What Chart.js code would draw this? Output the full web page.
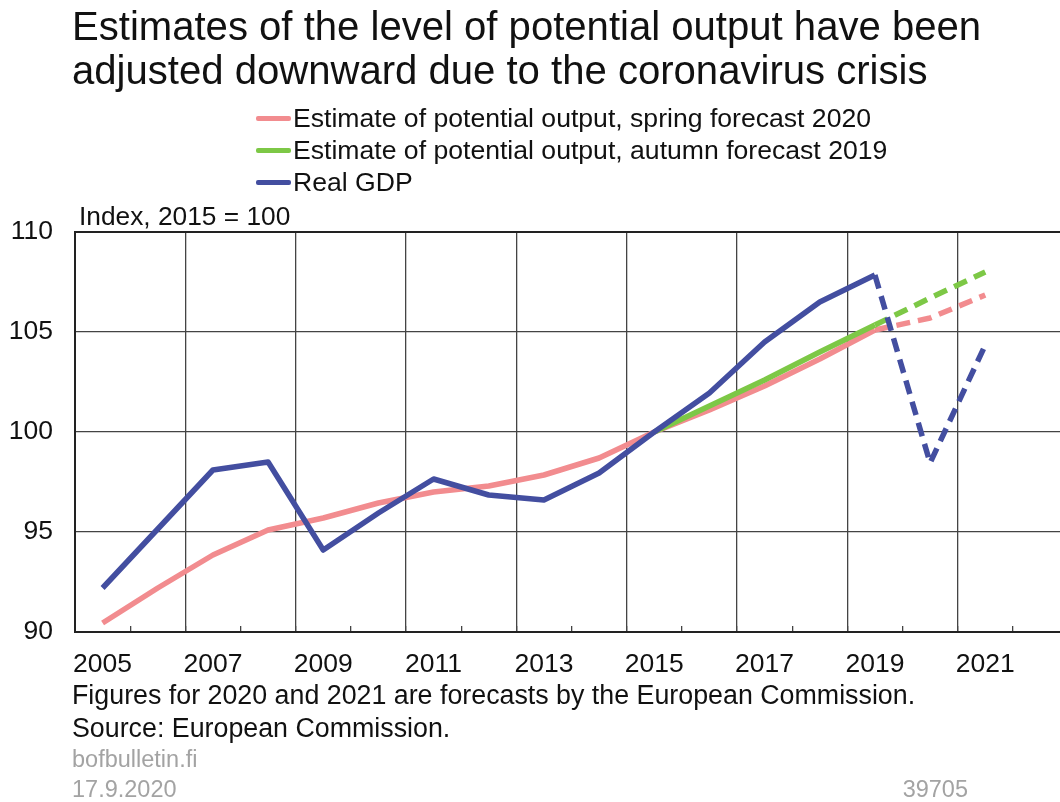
<!DOCTYPE html>
<html>
<head>
<meta charset="utf-8">
<script src="https://cdn.jsdelivr.net/npm/chart.js@4.4.1/dist/chart.umd.min.js"></script>
<style>
  html, body { margin: 0; padding: 0; background: #fff; overflow: hidden; width: 1060px; height: 802px; }
  body { position: relative; font-family: 'Liberation Sans', Arial, sans-serif; color: #111; }
  #chart { position: absolute; left: 0; top: 0; }
  .abs { position: absolute; white-space: nowrap; }
  .title { left: 72px; top: 4px; font-size: 40.1px; line-height: 44px; }
  .legend-row { left: 256px; font-size: 26.6px; line-height: 32px; display: flex; align-items: center; }
  .swatch { display: inline-block; width: 35px; height: 5px; border-radius: 2px; margin-right: 2px; }
  .unit { left: 79px; top: 201px; font-size: 26.3px; line-height: 30px; }
  .note { left: 72px; font-size: 26.8px; line-height: 30px; }
  .grey { font-size: 23.5px; line-height: 30px; color: #a3a3a3; }
</style>
</head>
<body>
<canvas id="chart" width="1080" height="802"></canvas>

<div class="abs title">Estimates of the level of potential output have been<br>adjusted downward due to the coronavirus crisis</div>

<div class="abs legend-row" style="top:102px"><span class="swatch" style="background:#f28c8f"></span>Estimate of potential output, spring forecast 2020</div>
<div class="abs legend-row" style="top:134px"><span class="swatch" style="background:#7dc846"></span>Estimate of potential output, autumn forecast 2019</div>
<div class="abs legend-row" style="top:166px"><span class="swatch" style="background:#434ea0"></span>Real GDP</div>

<div class="abs unit">Index, 2015 = 100</div>

<div class="abs note" style="top:680px">Figures for 2020 and 2021 are forecasts by the European Commission.</div>
<div class="abs note" style="top:713px">Source: European Commission.</div>
<div class="abs grey" style="left:72px; top:744px">bofbulletin.fi</div>
<div class="abs grey" style="left:72px; top:774px">17.9.2020</div>
<div class="abs grey" style="right:92px; top:774px">39705</div>

<script>
// ── Data ───────────────────────────────────────────────────────────────────
const years = ['2005','2006','2007','2008','2009','2010','2011','2012','2013',
               '2014','2015','2016','2017','2018','2019','2020','2021','2022'];

const spring2020 = [90.45, 92.2, 93.85, 95.1, 95.7, 96.45, 97.0, 97.3, 97.85,
                    98.7, 100, 101.1, 102.3, 103.65, 105.1, 105.7, 106.85, null];

const autumn2019 = [null, null, null, null, null, null, null, null, null,
                    null, 100, 101.3, 102.6, 104.0, 105.35, 106.7, 108.0, null];

const realGdp    = [92.2, 95.15, 98.1, 98.5, 94.1, 95.95, 97.65, 96.85, 96.6,
                    97.95, 100, 101.95, 104.5, 106.5, 107.85, 98.45, 104.35, null];

const yTicks = [90, 95, 100, 105, 110];

const FIRST_FORECAST = years.indexOf('2020');
const FONT = "'Liberation Sans', Arial, sans-serif";

// forecast years drawn dashed
const forecastDash = ctx => ctx.p1DataIndex >= FIRST_FORECAST ? [14, 8] : undefined;

function lineSet(label, data, color) {
  return {
    label, data,
    borderColor: color, backgroundColor: color,
    borderWidth: 5.5, pointRadius: 0, tension: 0,
    borderJoinStyle: 'round', spanGaps: false, fill: false,
    segment: { borderDash: forecastDash }
  };
}

new Chart(document.getElementById('chart'), {
  type: 'line',
  data: {
    labels: years,
    datasets: [
      lineSet('Real GDP', realGdp, '#434ea0'),
      lineSet('Estimate of potential output, autumn forecast 2019', autumn2019, '#7dc846'),
      lineSet('Estimate of potential output, spring forecast 2020', spring2020, '#f28c8f'),
    ]
  },
  options: {
    responsive: false, animation: false,
    layout: { padding: { top: 232, bottom: 130, left: 0, right: 12 } },
    plugins: { legend: { display: false }, tooltip: { enabled: false } },
    scales: {
      x: {
        offset: true,
        afterFit: s => { s.height = 40; },
        grid: {
          offset: true,
          color: c => (c.index === undefined || c.index % 2 === 0) ? '#444' : 'rgba(0,0,0,0)',
          lineWidth: 1.3,
          drawTicks: true, tickLength: -6, tickColor: '#444', tickWidth: 1.3
        },
        border: { display: true, color: '#222', width: 2 },
        ticks: {
          autoSkip: false, maxRotation: 0, padding: 23,
          color: '#111', font: { family: FONT, size: 26.5 },
          callback: (v, i) => i % 2 === 0 ? years[i] : ''
        }
      },
      y: {
        min: yTicks[0], max: yTicks[yTicks.length - 1],
        afterFit: s => { s.width = 75; },
        afterBuildTicks: s => { s.ticks = yTicks.map(v => ({ value: v })); },
        grid: {
          drawTicks: false,
          color: c => c.tick && c.tick.value === 110 ? '#222' : '#444',
          lineWidth: c => c.tick && c.tick.value === 110 ? 2 : 1.3
        },
        border: { display: true, color: '#222', width: 2 },
        ticks: { padding: 22, color: '#111', font: { family: FONT, size: 26.5 } }
      }
    }
  }
});
</script>
</body>
</html>
